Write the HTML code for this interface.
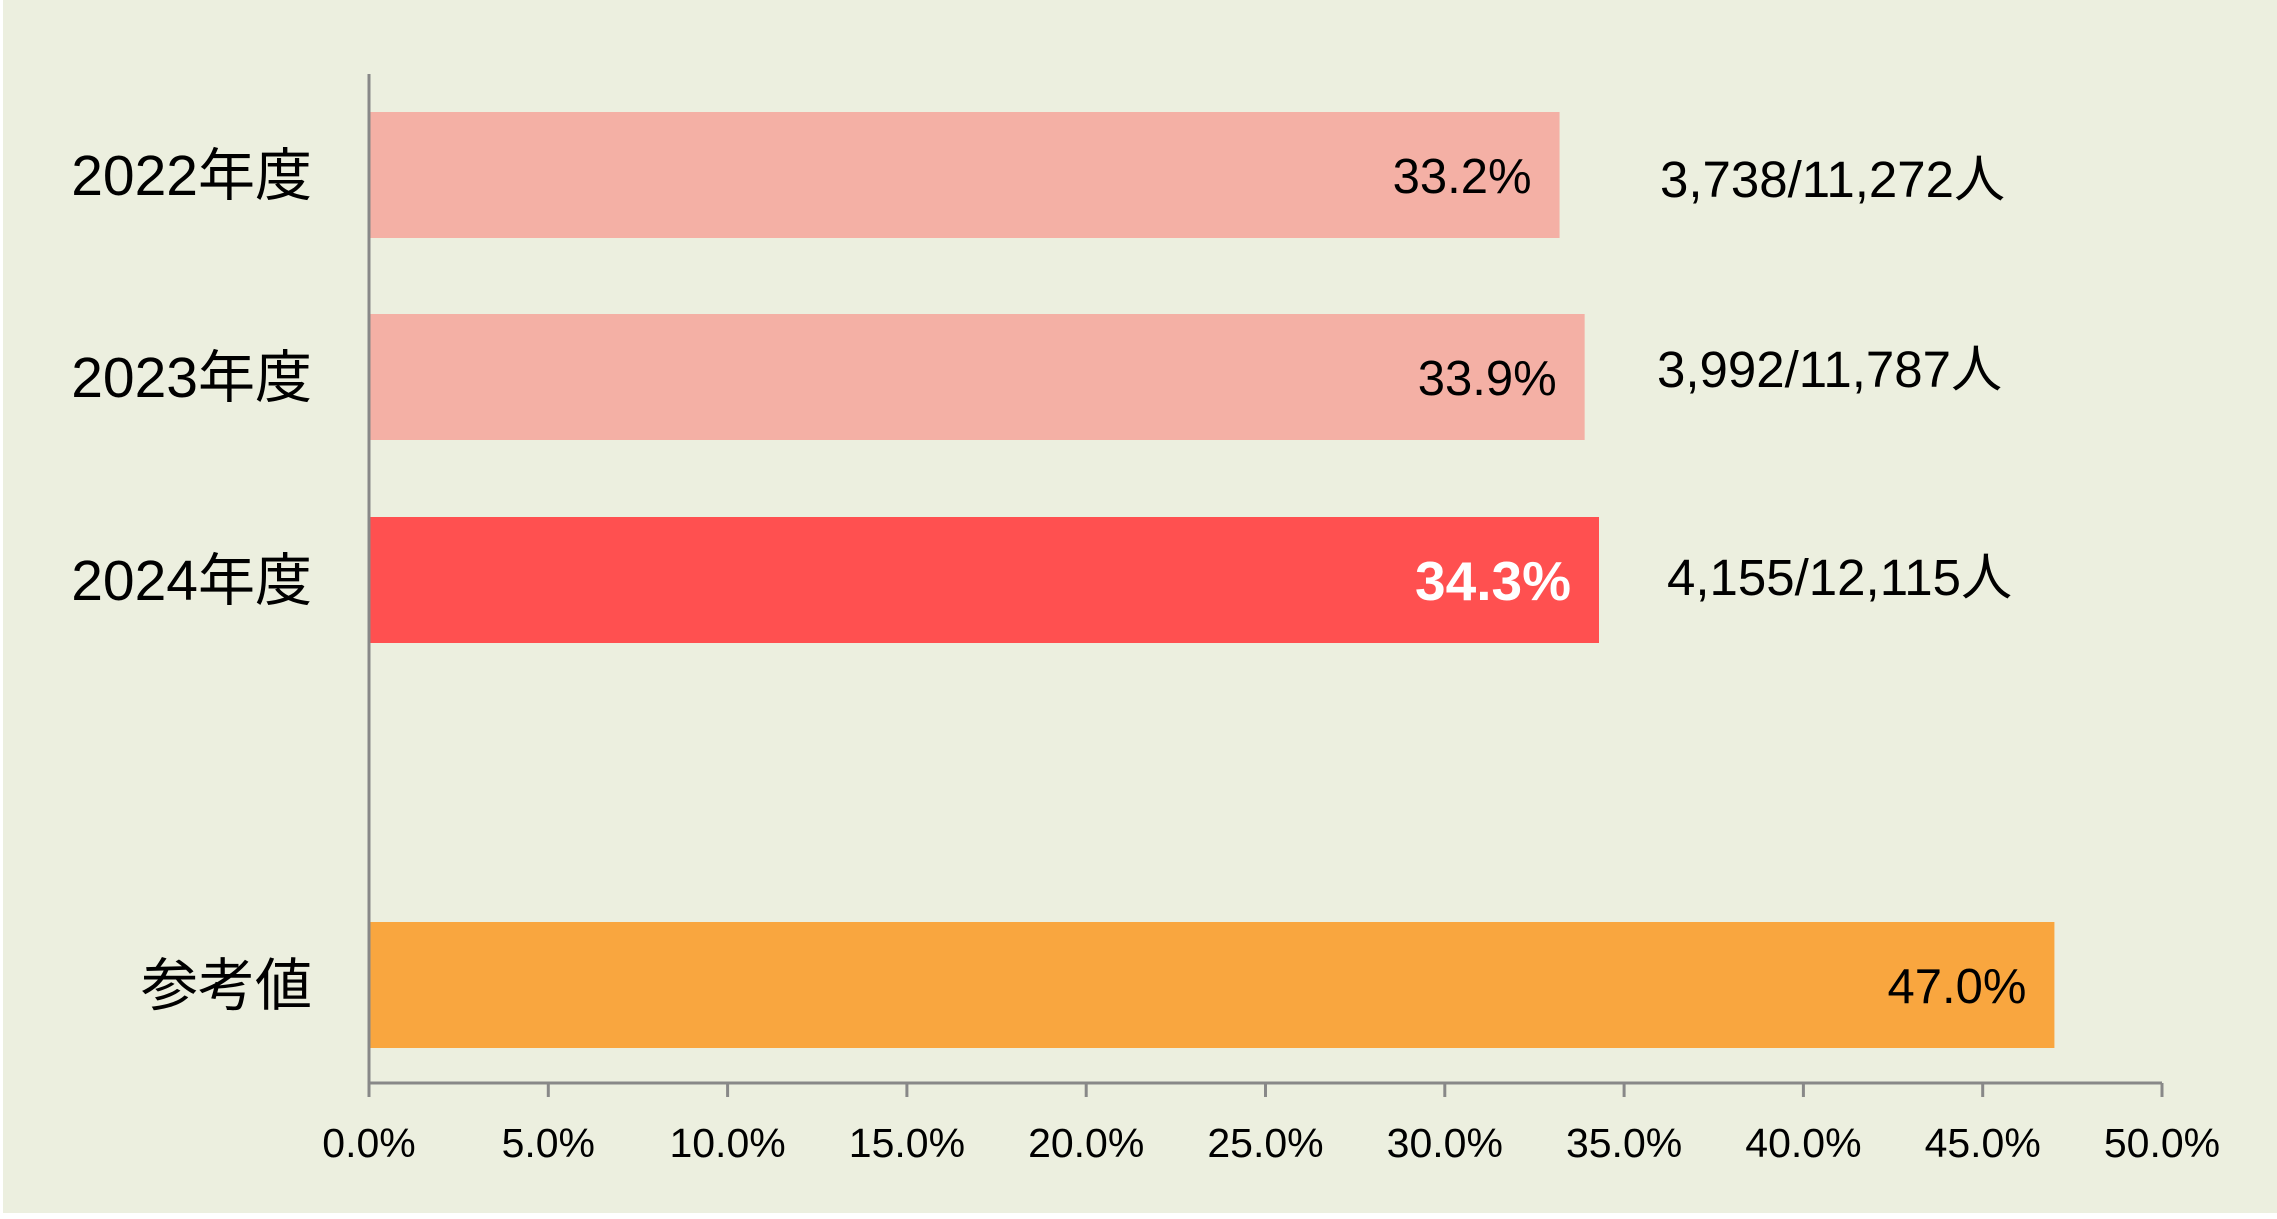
<!DOCTYPE html>
<html><head><meta charset="utf-8"><style>
html,body{margin:0;padding:0;background:#fff;}
svg{display:block;font-family:"Liberation Sans","Noto Sans CJK JP",sans-serif;}
</style></head><body>
<svg id="chart" width="2277" height="1219" viewBox="0 0 2277 1219" xmlns="http://www.w3.org/2000/svg">
<rect x="3" y="0" width="2274" height="1213" fill="#ECEFDF"/>
<g id="bars"></g>
<g id="axis"></g>
</svg>
<script>
const categories = ["2022年度","2023年度","2024年度","参考値"];
const values = [33.2, 33.9, 34.3, 47.0];
const valueLabels = ["33.2%","33.9%","34.3%","47.0%"];
const countLabels = ["3,738/11,272人","3,992/11,787人","4,155/12,115人",""];
const tickValues = [0,5,10,15,20,25,30,35,40,45,50];
const tickLabels = ["0.0%","5.0%","10.0%","15.0%","20.0%","25.0%","30.0%","35.0%","40.0%","45.0%","50.0%"];

const NS="http://www.w3.org/2000/svg";
const x0=369, pxPer=1793/50;
const xs = v => x0 + v*pxPer;
const rowCenters=[175,377,580,985];
const ys = i => rowCenters[i];
const barH=126;
const colors=["#F4B0A5","#F4B0A5","#FF5050","#F9A63F"];
const bars=document.getElementById('bars');
const axis=document.getElementById('axis');
function mk(tag,attrs,parent,text){const e=document.createElementNS(NS,tag);for(const k in attrs)e.setAttribute(k,attrs[k]);if(text!==undefined)e.textContent=text;parent.appendChild(e);return e;}

categories.forEach((c,i)=>{
  const cy=ys(i);
  const r=mk('rect',{x:x0,y:cy-barH/2,width:xs(values[i])-x0,height:barH,fill:colors[i]},bars);
  
  
  const cl=mk('text',{x:312,y:cy+20,'font-size':57,'text-anchor':'end',fill:'#000'},bars,c);
  
  
  const bold=i===2;
  const vl=mk('text',{x:xs(values[i])-(bold?28:28),y:cy+(bold?20:18),'font-size':bold?55:49,'font-weight':bold?'bold':'normal','text-anchor':'end',fill:bold?'#fff':'#000'},bars,valueLabels[i]);
  
  
  if(countLabels[i]){
    const cx=[1660,1657,1667][i];
    const t=mk('text',{x:cx,y:cy+[22,10,15][i],'font-size':51,fill:'#000'},bars,countLabels[i]);
    
    
  }
});

const yl=mk('line',{x1:x0,y1:74,x2:x0,y2:1097,stroke:'#888',"stroke-width":3},axis);


const xl=mk('line',{x1:x0,y1:1083,x2:xs(50),y2:1083,stroke:'#888',"stroke-width":3},axis);


tickValues.forEach((v,i)=>{
  const tk=mk('line',{x1:xs(v),y1:1083,x2:xs(v),y2:1097,stroke:'#888',"stroke-width":3},axis);
  
  
  const tl=mk('text',{x:xs(v),y:1157,'font-size':41,'text-anchor':'middle',fill:'#000'},axis,tickLabels[i]);
  
  
});
</script>
</body></html>
